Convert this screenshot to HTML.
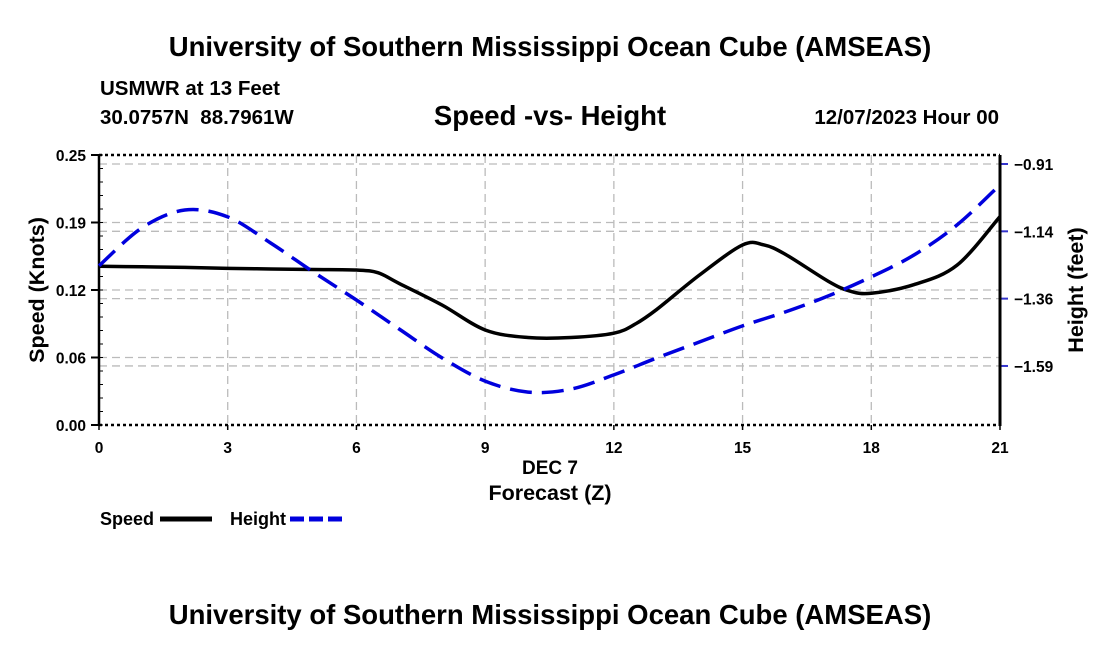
<!DOCTYPE html>
<html><head><meta charset="utf-8"><style>
body{margin:0;background:#fff;width:1100px;height:650px;overflow:hidden}
svg text{font-family:"Liberation Sans",Arial,sans-serif;font-weight:bold;fill:#000}
</style></head><body>
<svg id="chart" width="1100" height="650" viewBox="0 0 1100 650" xmlns="http://www.w3.org/2000/svg">
<text x="550" y="56" font-size="27.5" text-anchor="middle">University of Southern Mississippi Ocean Cube (AMSEAS)</text>
<text x="100" y="95" font-size="20.5">USMWR at 13 Feet</text>
<text x="100" y="124" font-size="20.5" xml:space="preserve">30.0757N  88.7961W</text>
<text x="550" y="125" font-size="27.5" text-anchor="middle">Speed -vs- Height</text>
<text x="999" y="124" font-size="20.5" text-anchor="end">12/07/2023 Hour 00</text>
<g id="grid"></g>
<g id="axes"></g>
<g id="series"></g>
<text transform="translate(44,290) rotate(-90)" font-size="21.5" text-anchor="middle">Speed (Knots)</text>
<text transform="translate(1083,290) rotate(-90)" font-size="21.5" text-anchor="middle">Height (feet)</text>
<text x="550" y="474" font-size="19" text-anchor="middle">DEC 7</text>
<text x="550" y="500" font-size="21.5" text-anchor="middle">Forecast (Z)</text>
<g>
<text x="100" y="525" font-size="18">Speed</text>
<line x1="160" y1="519" x2="212" y2="519" stroke="#000" stroke-width="5"/>
<text x="230" y="525" font-size="18">Height</text>
<line x1="290" y1="519" x2="342" y2="519" stroke="#0000dd" stroke-width="5" stroke-dasharray="14,5"/>
</g>
<text x="550" y="624" font-size="27.5" text-anchor="middle">University of Southern Mississippi Ocean Cube (AMSEAS)</text>
</svg>
<script>
const hours=[0,1,2,3,4,5,6,6.5,7,8,9,10,11,12,12.5,13,14,15,15.5,16,17,17.5,18,19,20,21];
const speed=[0.147,0.1465,0.146,0.145,0.1445,0.144,0.1435,0.141,0.131,0.111,0.088,0.081,0.081,0.085,0.0935,0.107,0.139,0.1667,0.1667,0.158,0.133,0.124,0.122,0.130,0.148,0.193];
const heightHours=[0,1,2,3,4,5,6,7,8,9,10,11,12,13,14,15,16,17,18,19,20,21];
const height=[-1.253,-1.125,-1.065,-1.088,-1.176,-1.274,-1.368,-1.466,-1.563,-1.641,-1.678,-1.668,-1.620,-1.563,-1.509,-1.455,-1.408,-1.354,-1.290,-1.216,-1.115,-0.980];
const xTicks=[0,3,6,9,12,15,18,21];
const leftTicks=[0,0.0625,0.125,0.1875,0.25];
const leftTickLabels=["0.00","0.06","0.12","0.19","0.25"];
const rightTicks=[-0.91,-1.1367,-1.3633,-1.59];
const rightTickLabels=["-0.91","-1.14","-1.36","-1.59"];
const NS="http://www.w3.org/2000/svg";
const X0=99,X1=1000,Y0=425,Y1=155;
const xs=h=>X0+(h/21)*(X1-X0);
const ysL=v=>Y0-(v/0.25)*(Y0-Y1);
const ysR=v=>164+(-0.91-v)*297;
function mk(tag,attrs,parent){const e=document.createElementNS(NS,tag);for(const k in attrs)e.setAttribute(k,attrs[k]);parent.appendChild(e);return e;}
const grid=document.getElementById('grid'),axes=document.getElementById('axes'),ser=document.getElementById('series');
xTicks.forEach(h=>{
  const l=mk('line',{x1:xs(h),x2:xs(h),y1:Y1,y2:Y0,stroke:'#bbb','stroke-width':1.3,'stroke-dasharray':'8,5'},grid);
  
  
  const t=mk('text',{x:xs(h),y:453,'font-size':15.5,'text-anchor':'middle'},axes);t.textContent=h;
  
  
  const tk=mk('line',{x1:xs(h),x2:xs(h),y1:Y0,y2:Y0+5,stroke:'#000','stroke-width':1.5},axes);
  
  
});
leftTicks.forEach((v,i)=>{
  if(i>0&&i<leftTicks.length-1){const l=mk('line',{x1:X0,x2:X1,y1:ysL(v),y2:ysL(v),stroke:'#bbb','stroke-width':1.3,'stroke-dasharray':'8,5'},grid);
  
  }
  const t=mk('text',{x:86,y:ysL(v)+6,'font-size':15.5,'text-anchor':'end'},axes);t.textContent=leftTickLabels[i];
  
  
  mk('line',{x1:X0-8,x2:X0,y1:ysL(v),y2:ysL(v),stroke:'#000','stroke-width':2},axes);
});
for(let v=0;v<=0.25001;v+=0.0125){mk('line',{x1:X0,x2:X0+4,y1:ysL(v),y2:ysL(v),stroke:'#000','stroke-width':1},axes);}
rightTicks.forEach((v,i)=>{
  const l=mk('line',{x1:X0,x2:X1,y1:ysR(v),y2:ysR(v),stroke:'#bbb','stroke-width':1.3,'stroke-dasharray':'8,5'},grid);
  
  
  mk('line',{x1:X1,x2:X1+8,y1:ysR(v),y2:ysR(v),stroke:'#33c','stroke-width':2},axes);
  const t=mk('text',{x:1014,y:ysR(v)+6,'font-size':15.5},axes);t.textContent=rightTickLabels[i].replace('-','\u2212');
  
  
});
mk('line',{x1:X0,x2:X1,y1:Y1,y2:Y1,stroke:'#000','stroke-width':2.5,'stroke-dasharray':'3,3'},axes);
mk('line',{x1:X0,x2:X1,y1:Y0,y2:Y0,stroke:'#000','stroke-width':2.5,'stroke-dasharray':'3,3'},axes);
mk('line',{x1:X0,x2:X0,y1:Y1,y2:Y0+1,stroke:'#000','stroke-width':2.5},axes);
mk('line',{x1:X1,x2:X1,y1:Y1,y2:Y0+1,stroke:'#000','stroke-width':3},axes);
function smooth(pts){let d='M'+pts[0][0]+','+pts[0][1];
  for(let i=0;i<pts.length-1;i++){const p0=pts[i-1]||pts[i],p1=pts[i],p2=pts[i+1],p3=pts[i+2]||p2;
  d+=' C'+(p1[0]+(p2[0]-p0[0])/6)+','+(p1[1]+(p2[1]-p0[1])/6)+' '+(p2[0]-(p3[0]-p1[0])/6)+','+(p2[1]-(p3[1]-p1[1])/6)+' '+p2[0]+','+p2[1];}
  return d;}
const sp=mk('path',{d:smooth(hours.map((h,i)=>[xs(h),ysL(speed[i])])),fill:'none',stroke:'#000','stroke-width':3.5},ser);


const hp=mk('path',{d:smooth(heightHours.map((h,i)=>[xs(h),ysR(height[i])])),fill:'none',stroke:'#0000dd','stroke-width':3.5,'stroke-dasharray':'22,10'},ser);


</script>
</body></html>
